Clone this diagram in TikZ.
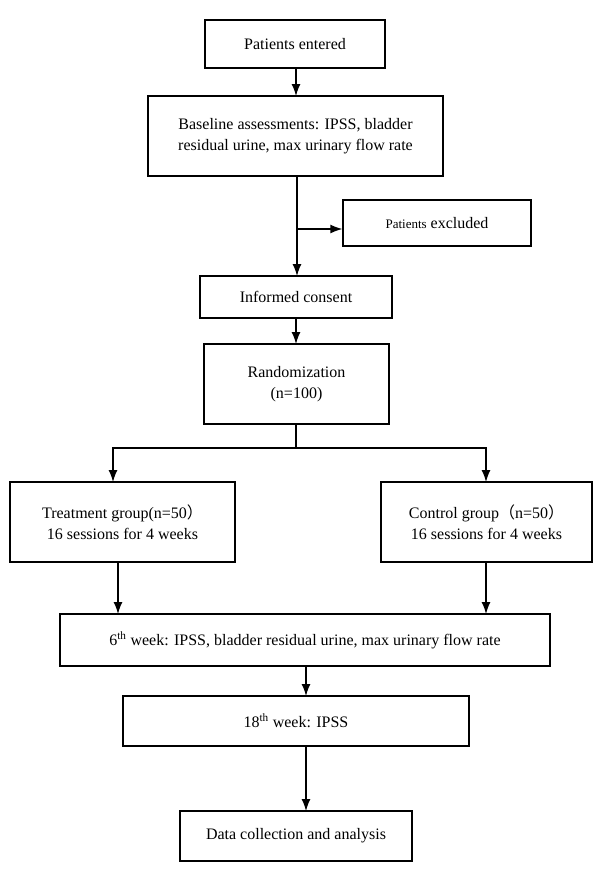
\documentclass[tikz,border=0pt]{standalone}
\usepackage{fontspec}
\setmainfont{Liberation Serif}
\newfontfamily\cjk{Noto Sans CJK SC}
\usetikzlibrary{arrows.meta}
\begin{document}
\begin{tikzpicture}[x=1pt,y=-1pt,
  box/.style={draw,line width=1.3pt,inner sep=0pt,align=center,font=\fontsize{16}{21}\selectfont},
  arr/.style={line width=1.3pt,-{Latex[length=12pt,width=9pt]}}]
\useasboundingbox (0,0) rectangle (600,891);
\def\bx#1#2#3#4#5#6{\node[box,minimum width={#4-#2},minimum height={#5-#3}] (#1) at ({(#2+#4)/2},{(#3+#5)/2}) {#6};}
\bx{a}{205}{20}{385}{68}{Patients entered}
\bx{b}{148}{96}{443}{176}{Baseline assessments: IPSS, bladder\\residual urine, max urinary flow rate}
\bx{c}{343}{200}{531}{246}{{\fontsize{13}{16}\selectfont Patients} excluded}
\bx{d}{200}{276}{392}{318}{Informed consent}
\bx{e}{204}{344}{389}{424}{Randomization\\(n=100)}
\bx{f}{10}{482}{235}{562}{Treatment group(n=50{\cjk ）}\\16 sessions for 4 weeks}
\bx{g}{381}{482}{592}{562}{Control group{\cjk （}n=50{\cjk ）}\\16 sessions for 4 weeks}
\bx{h}{60}{614}{550}{666}{6\textsuperscript{th} week: IPSS, bladder residual urine, max urinary flow rate}
\bx{i}{123}{696}{469}{746}{18\textsuperscript{th} week: IPSS}
\bx{j}{180}{811}{412}{861}{Data collection and analysis}
\draw[arr] (296,68) -- (296,96);
\coordinate (k) at (297,229);
\draw[arr] (297,176) -- (297,276);
\draw[arr] (k) -- (k -| c.west);
\draw[arr] (296,318) -- (296,344);
\draw[line width=1.3pt] (296,424) -- (296,448);
\draw[line width=1.3pt] (113,448) -- (486,448);
\draw[arr] (113,447.4) -- (113,482);
\draw[arr] (486,447.4) -- (486,482);
\draw[arr] (118,562) -- (118,614);
\draw[arr] (486,562) -- (486,614);
\draw[arr] (306,666) -- (306,696);
\draw[arr] (306,746) -- (306,811);
\end{tikzpicture}
\end{document}
